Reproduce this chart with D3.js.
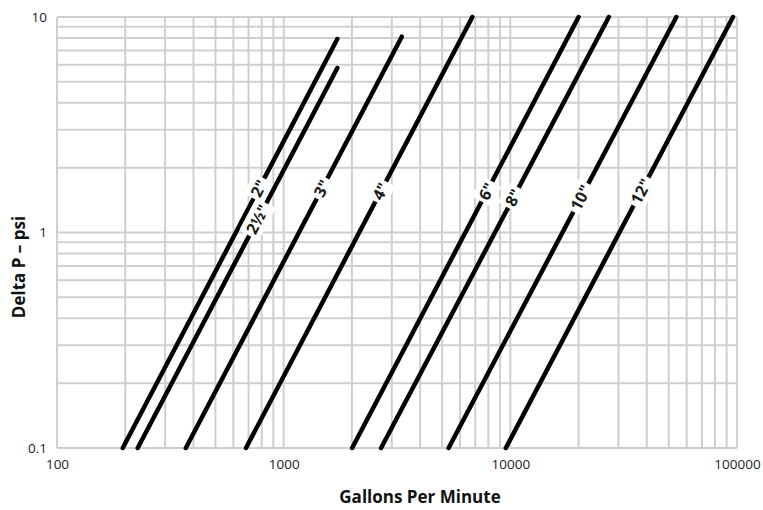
<!DOCTYPE html>
<html>
<head>
<meta charset="utf-8">
<script src="https://cdnjs.cloudflare.com/ajax/libs/d3/7.9.0/d3.min.js"></script>
<style>
  html, body { margin: 0; padding: 0; background: #fff; }
  svg { display: block; font-family: 'Open Sans', 'Noto Sans', sans-serif; }
</style>
</head>
<body>
<svg id="chart" width="763" height="510"></svg>
<script>
// pipe sizes and their line ends (gpm, psi)
const sizes = ['2"', '2½"', '3"', '4"', '6"', '8"', '10"', '12"'];
const gpmLow = [195, 227, 370, 682, 2005, 2690, 5340, 9550];
const psiLow = [0.1, 0.1, 0.1, 0.1, 0.1, 0.1, 0.1, 0.1];
const gpmHigh = [1725, 1725, 3320, 6800, 20000, 27200, 54000, 96000];
const psiHigh = [7.9, 5.8, 8.1, 10, 10, 10, 10, 10];
// where each size label sits (psi)
const labelPsi = [1.6, 1.15, 1.6, 1.55, 1.55, 1.45, 1.45, 1.55];

const xTicks = [100, 1000, 10000, 100000];
const yTicks = [0.1, 1, 10];

const m = { left: 57, right: 737, top: 17, bottom: 448 };
const GRID = '#cfcfcf';

const svg = d3.select('#chart');
const x = d3.scaleLog().domain([100, 100000]).range([m.left, m.right]);
const y = d3.scaleLog().domain([0.1, 10]).range([m.bottom, m.top]);

// grid
const grid = svg.append('g');
grid.selectAll('line.v').data(x.ticks()).join('line')
  .attr('class', 'v')
  .attr('x1', d => x(d)).attr('x2', d => x(d))
  .attr('y1', m.top).attr('y2', m.bottom)
  .attr('stroke', GRID).attr('stroke-width', 2);
grid.selectAll('line.h').data(y.ticks()).join('line')
  .attr('class', 'h')
  .attr('y1', d => y(d)).attr('y2', d => y(d))
  .attr('x1', m.left).attr('x2', m.right)
  .attr('stroke', GRID).attr('stroke-width', 2);

// axes (labels only, no domain line)
const xAxis = svg.append('g').attr('transform', `translate(0,${m.bottom})`)
  .call(d3.axisBottom(x).tickValues(xTicks).tickFormat(d3.format('d')).tickSize(0).tickPadding(11));
const yAxis = svg.append('g').attr('transform', `translate(${m.left},0)`)
  .call(d3.axisLeft(y).tickValues(yTicks).tickFormat(d => d < 1 ? '0.1' : d3.format('d')(d)).tickSize(0).tickPadding(10));
[xAxis, yAxis].forEach(a => {
  a.select('.domain').remove();
  a.selectAll('text').attr('font-size', 13.5).attr('fill', '#222')
    .style('font-family', "'Open Sans', sans-serif");
});

// pipe lines
const rows = sizes.map((s, i) => ({
  size: s,
  p0: [gpmLow[i], psiLow[i]],
  p1: [gpmHigh[i], psiHigh[i]],
  lp: labelPsi[i]
}));

svg.append('g').selectAll('line').data(rows).join('line')
  .attr('x1', d => x(d.p0[0])).attr('y1', d => y(d.p0[1]))
  .attr('x2', d => x(d.p1[0])).attr('y2', d => y(d.p1[1]))
  .attr('stroke', '#000').attr('stroke-width', 4.5).attr('stroke-linecap', 'round');

// labels along the lines
const lab = svg.append('g').selectAll('g').data(rows).join('g')
  .attr('transform', d => {
    const t = (Math.log(d.lp) - Math.log(d.p0[1])) / (Math.log(d.p1[1]) - Math.log(d.p0[1]));
    const q = Math.exp(Math.log(d.p0[0]) + t * (Math.log(d.p1[0]) - Math.log(d.p0[0])));
    const ang = Math.atan2(y(d.p1[1]) - y(d.p0[1]), x(d.p1[0]) - x(d.p0[0])) * 180 / Math.PI;
    return `translate(${x(q)},${y(d.lp)}) rotate(${ang})`;
  });

lab.append('text')
  .text(d => d.size)
  .attr('text-anchor', 'middle').attr('dy', '0.35em')
  .attr('font-size', 16).attr('font-weight', 700).attr('fill', '#1a1a1a');

lab.each(function () {
  const g = d3.select(this);
  const b = g.select('text').node().getBBox();
  g.insert('rect', 'text')
    .attr('x', b.x - 3).attr('y', b.y)
    .attr('width', b.width + 6).attr('height', b.height)
    .attr('rx', 2)
    .attr('fill', '#fff');
});

// axis titles
svg.append('text')
  .attr('x', 420).attr('y', 503)
  .attr('text-anchor', 'middle')
  .attr('font-size', 17).attr('font-weight', 700).attr('fill', '#111')
  .text('Gallons Per Minute');

svg.append('text')
  .attr('transform', 'translate(25,267) rotate(-90)')
  .attr('text-anchor', 'middle')
  .attr('font-size', 17).attr('font-weight', 700).attr('fill', '#111')
  .text('Delta P – psi');
</script>
</body>
</html>
